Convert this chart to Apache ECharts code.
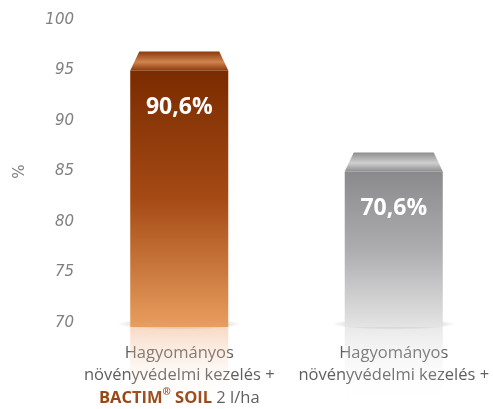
<!DOCTYPE html>
<html>
<head>
<meta charset="utf-8">
<script src="https://cdn.jsdelivr.net/npm/echarts@6/dist/echarts.min.js"></script>
<style>
  html, body { margin: 0; padding: 0; background: #ffffff; }
  #chart { width: 493px; height: 409px; }
</style>
</head>
<body>
<div id="chart"></div>
<script>
// Categories (treatments) and measured efficacy values
const categories = [
  'Hagyományos\nnövényvédelmi kezelés +\nBACTIM® SOIL 2 l/ha',
  'Hagyományos\nnövényvédelmi kezelés +'
];
const values = [90.6, 70.6];
const valueLabels = ['90,6%', '70,6%'];

// Printed scale on the left
const scaleTicks = [70, 75, 80, 85, 90, 95, 100];
// Range of the value scale the columns are drawn against
const valueMin = 40.6;
const valueMax = 100.6;

// Per-column colour sets
const palettes = [
  { top: '#7a2b00', mid: '#a54a15', bottom: '#e89e5e', lidDark: '#8a390b', lidLight: '#d08550', mirror: 'rgba(236,165,115,0.42)' },
  { top: '#8a8a8c', mid: '#adadaf', bottom: '#e4e4e5', lidDark: '#8e8e90', lidLight: '#cfcfd0', mirror: 'rgba(200,200,202,0.40)' }
];

const chart = echarts.init(document.getElementById('chart'), null, { renderer: 'canvas' });

function renderColumn(params, api) {
  const idx = api.value(0);
  const v = api.value(1);
  const p = palettes[idx];
  const topPt = api.coord([idx, v]);
  const basePt = api.coord([idx, valueMin]);
  const band = api.size([1, 0])[0];
  const w = band * 0.457;
  const cx = topPt[0];
  const x0 = cx - w / 2;
  const yTop = topPt[1];
  const yBot = basePt[1] + 4;
  const capH = 19;
  const inset = 9;

  return {
    type: 'group',
    children: [
      // soft floor shadow
      {
        type: 'circle',
        shape: { cx: 0, cy: 0, r: w * 0.63 },
        x: cx, y: yBot - 3,
        scaleY: 0.09,
        style: {
          fill: {
            type: 'radial', x: 0.5, y: 0.5, r: 0.5,
            colorStops: [
              { offset: 0, color: 'rgba(0,0,0,0.16)' },
              { offset: 0.8, color: 'rgba(0,0,0,0.09)' },
              { offset: 1, color: 'rgba(0,0,0,0)' }
            ]
          }
        },
        silent: true
      },
      // faded mirror image under the column
      {
        type: 'rect',
        shape: { x: x0, y: yBot, width: w, height: 78 },
        style: {
          fill: {
            type: 'linear', x: 0, y: 0, x2: 0, y2: 1,
            colorStops: [
              { offset: 0, color: p.mirror },
              { offset: 1, color: 'rgba(255,255,255,0)' }
            ]
          }
        },
        silent: true
      },
      // lid (perspective top)
      {
        type: 'polygon',
        shape: {
          points: [
            [x0 + inset, yTop - capH],
            [x0 + w - inset, yTop - capH],
            [x0 + w, yTop],
            [x0, yTop]
          ]
        },
        style: {
          fill: {
            type: 'linear', x: 0, y: 0, x2: 0, y2: 1,
            colorStops: [
              { offset: 0, color: p.lidDark },
              { offset: 0.55, color: p.lidLight },
              { offset: 1, color: p.lidDark }
            ]
          }
        }
      },
      // front face
      {
        type: 'rect',
        shape: { x: x0, y: yTop, width: w, height: yBot - yTop },
        style: {
          fill: {
            type: 'linear', x: 0, y: 0, x2: 0, y2: 1,
            colorStops: [
              { offset: 0, color: p.top },
              { offset: 0.5, color: p.mid },
              { offset: 1, color: p.bottom }
            ]
          }
        }
      },
      // value label
      {
        type: 'text',
        x: cx, y: yTop + 37,
        style: {
          text: valueLabels[idx],
          fill: '#ffffff',
          font: 'bold 23px "Open Sans", sans-serif',
          align: 'center',
          verticalAlign: 'middle'
        }
      }
    ]
  };
}

const option = {
  animation: false,
  backgroundColor: '#ffffff',
  grid: { left: 72, right: -8, top: 20, bottom: 86, containLabel: false, outerBoundsMode: 'none' },
  xAxis: {
    type: 'category',
    data: categories,
    axisLine: { show: false },
    axisTick: { show: false },
    axisLabel: {
      interval: 0,
      margin: 19,
      color: '#5f5f5f',
      fontFamily: '"Open Sans", sans-serif',
      fontSize: 16.5,
      lineHeight: 22.5,
      hideOverlap: false,
      formatter: function (txt) {
        return txt.replace('BACTIM® SOIL', '{b|BACTIM}{sup|®}{b| SOIL}');
      },
      rich: {
        b: { color: '#9a4514', fontWeight: 'bold', fontSize: 16.5, fontFamily: '"Open Sans", sans-serif', lineHeight: 22.5 },
        sup: { color: '#9a4514', fontWeight: 'bold', fontSize: 10, fontFamily: '"Open Sans", sans-serif', verticalAlign: 'top', lineHeight: 22.5, padding: [0, 0, 6, 0] }
      }
    }
  },
  yAxis: [
    {
      type: 'value',
      min: scaleTicks[0],
      max: scaleTicks[scaleTicks.length - 1],
      interval: 5,
      name: '%',
      nameLocation: 'middle',
      nameGap: 44,
      nameRotate: 90,
      nameTextStyle: { color: '#808080', fontSize: 15, fontFamily: '"DejaVu Sans", sans-serif' },
      axisLine: { show: false },
      axisTick: { show: false },
      splitLine: { show: false },
      axisLabel: {
        margin: -2,
        color: '#808080',
        fontStyle: 'italic',
        fontSize: 15,
        fontFamily: '"DejaVu Sans", sans-serif'
      }
    },
    {
      type: 'value',
      min: valueMin,
      max: valueMax,
      show: false,
      splitLine: { show: false }
    }
  ],
  series: [
    {
      type: 'custom',
      yAxisIndex: 1,
      renderItem: renderColumn,
      data: values.map((v, i) => [i, v]),
      encode: { x: 0, y: 1 },
      clip: false
    }
  ]
};

chart.setOption(option);
</script>
</body>
</html>
